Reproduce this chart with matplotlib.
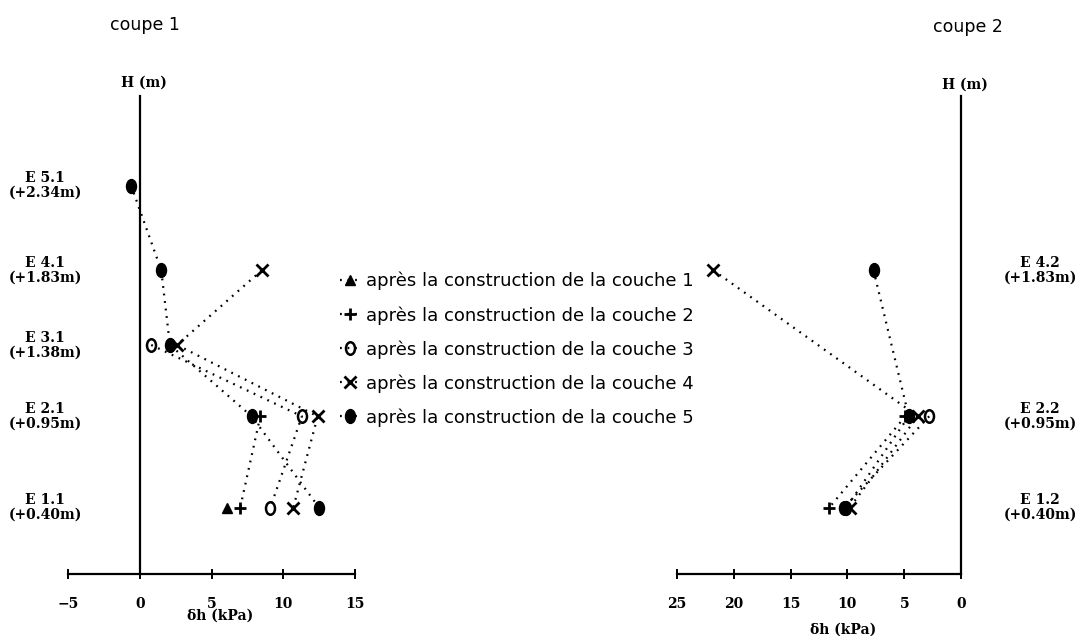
import numpy as np
import matplotlib
matplotlib.use('Agg')
from matplotlib import pyplot as plt
from matplotlib.markers import MarkerStyle
from matplotlib.path import Path
from matplotlib.transforms import Affine2D

nan = np.nan

# coupe 1 : gauges, height (m) and horizontal stress (kPa) per construction stage
gauges_1 = ['E 5.1', 'E 4.1', 'E 3.1', 'E 2.1', 'E 1.1']
heights_1 = [2.34, 1.83, 1.38, 0.95, 0.40]
c1_couche1 = [nan, nan, nan, nan, 6.1]
c1_couche2 = [nan, nan, nan, 8.4, 7.0]
c1_couche3 = [nan, nan, 0.8, 11.3, 9.1]
c1_couche4 = [nan, 8.5, 2.6, 12.4, 10.7]
c1_couche5 = [-0.6, 1.5, 2.1, 7.8, 12.5]

# coupe 2
gauges_2 = ['E 4.2', 'E 2.2', 'E 1.2']
heights_2 = [1.83, 0.95, 0.40]
c2_couche2 = [nan, 4.9, 11.6]
c2_couche3 = [nan, 2.8, 10.3]
c2_couche4 = [21.8, 3.8, 9.8]
c2_couche5 = [7.7, 4.6, 10.1]

xticks_1 = [-5, 0, 5, 10, 15]
xticks_2 = [25, 20, 15, 10, 5, 0]
legend_labels = ['après la construction de la couche %d' % i for i in range(1, 6)]

W, H = 1083, 636
fig = plt.figure(figsize=(W / 100, H / 100), dpi=100, facecolor='white')

# tall ellipse marker for the filled blob / open "O"
oval = Path.unit_circle().transformed(Affine2D().scale(0.72, 1.0))

styles = [
    dict(marker='^', ms=7, mfc='black', mec='black'),
    dict(marker='+', ms=9, mew=2.0, mec='black'),
    dict(marker=MarkerStyle(oval), ms=9, mfc='none', mec='black', mew=1.8),
    dict(marker='x', ms=8, mew=2.0, mec='black'),
    dict(marker=MarkerStyle(oval), ms=10, mfc='black', mec='black'),
]
dots = dict(color='black', linestyle=(0, (0.8, 2.6)), linewidth=1.6)

serif_bold = dict(family='DejaVu Serif', weight='bold', size=10)

# axes placement in pixels (from the reference)
y_bottom, y_top = 574, 96
ax_h = (y_bottom - y_top) / H
ax_b = (H - y_bottom) / H
ax1 = fig.add_axes([68 / W, ax_b, (355 - 68) / W, ax_h])
ax2 = fig.add_axes([677 / W, ax_b, (961 - 677) / W, ax_h])

ax1.set_xlim(-5, 15)
ax2.set_xlim(25, 0)

for ax, xt in ((ax1, xticks_1), (ax2, xticks_2)):
    ax.set_ylim(0, 2.88)
    ax.set_facecolor('none')
    ax.spines['top'].set_visible(False)
    ax.spines['right'].set_visible(False)
    ax.spines['left'].set_position(('data', 0))
    ax.spines['left'].set_linewidth(1.6)
    ax.spines['bottom'].set_linewidth(1.6)
    ax.set_yticks([])
    ax.set_xticks(xt)
    ax.set_xticklabels([str(v).replace('-', '\u2212') for v in xt], fontdict=serif_bold)
    ax.tick_params(axis='x', direction='inout', length=7, width=1.4, pad=13)
    ax.set_xlabel('δh (kPa)', fontdict=serif_bold)
    ax.xaxis.label.set_va('center')

ax1.xaxis.set_label_coords((220 - 68) / 287, -(616 - 574) / 478)
ax2.xaxis.set_label_coords((843 - 677) / 284, -(630 - 574) / 478)

# coupe 1 series
handles = []
for vals, st in zip([c1_couche1, c1_couche2, c1_couche3, c1_couche4, c1_couche5], styles):
    ln, = ax1.plot(vals, heights_1, clip_on=False, **dots, **st)
    handles.append(ln)

# coupe 2 series
for vals, st in zip([c2_couche2, c2_couche3, c2_couche4, c2_couche5], styles[1:]):
    ax2.plot(vals, heights_2, clip_on=False, **dots, **st)

# gauge labels
for name, h in zip(gauges_1, heights_1):
    ax1.annotate('%s\n(+%.2fm)' % (name, h), xy=(45 / W, h), xycoords=('figure fraction', 'data'),
                 ha='center', va='center', linespacing=1.05, **serif_bold)
for name, h in zip(gauges_2, heights_2):
    ax2.annotate('%s\n(+%.2fm)' % (name, h), xy=(1040 / W, h), xycoords=('figure fraction', 'data'),
                 ha='center', va='center', linespacing=1.05, **serif_bold)

ax1.text(0.3, 2.96, 'H (m)', ha='center', va='center', fontdict=serif_bold)
ax2.text(-0.35, 2.95, 'H (m)', ha='center', va='center', fontdict=serif_bold)

fig.text(145 / W, 1 - 25 / H, 'coupe 1', ha='center', va='center', family='DejaVu Sans', size=12.5)
fig.text(968 / W, 1 - 27 / H, 'coupe 2', ha='center', va='center', family='DejaVu Sans', size=12.5)

fig.legend(handles, legend_labels, loc='upper left', bbox_to_anchor=(340 / W, 1 - 272 / H),
           frameon=False, prop=dict(family='DejaVu Sans', size=13), handlelength=1.1,
           handletextpad=0.35, labelspacing=0.86, borderpad=0, borderaxespad=0, numpoints=1)

fig.savefig('out.png', dpi=100, facecolor='white')
